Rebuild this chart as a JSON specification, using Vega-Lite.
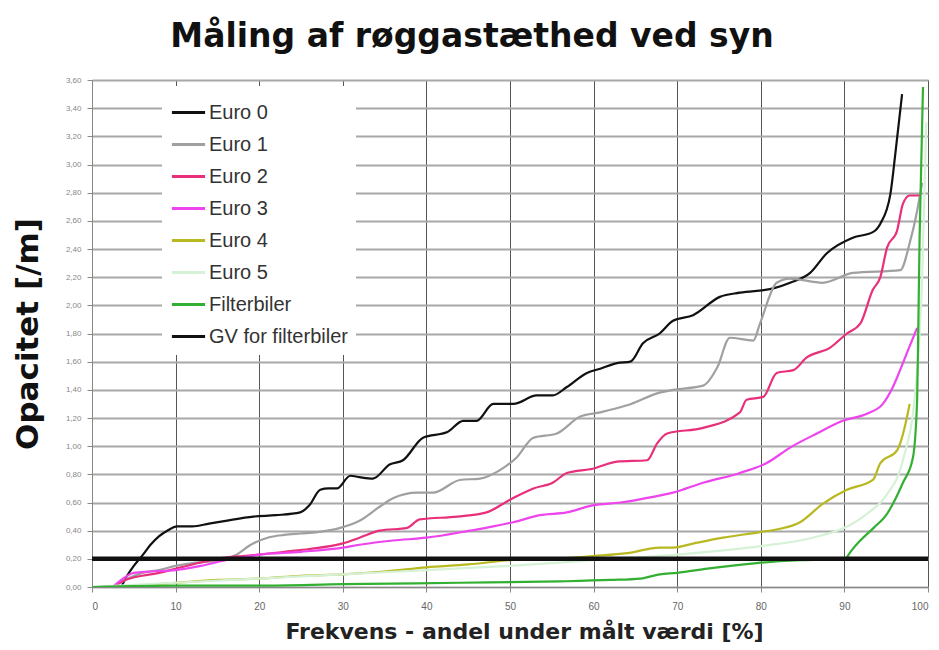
{
  "$schema": "https://vega.github.io/schema/vega-lite/v6.json",
  "width": 836,
  "height": 507,
  "autosize": "none",
  "padding": {"left": 92, "top": 80, "right": 11, "bottom": 63},
  "background": "white",
  "config": {
    "font": "Liberation Sans",
    "view": {"stroke": "#999999", "strokeWidth": 1}
  },
  "title": {
    "text": "Måling af røggastæthed ved syn",
    "fontSize": 33,
    "fontWeight": "bold",
    "font": "DejaVu Sans",
    "color": "#111111",
    "anchor": "middle",
    "offset": 22,
    "dx": -38
  },
  "data": {
    "values": [
      {"s":"Euro 0","x":3.5,"y":0},{"s":"Euro 0","x":4.2,"y":0.08},{"s":"Euro 0","x":5,"y":0.15},{"s":"Euro 0","x":6.1,"y":0.23},{"s":"Euro 0","x":7,"y":0.3},{"s":"Euro 0","x":8,"y":0.36},{"s":"Euro 0","x":9,"y":0.4},{"s":"Euro 0","x":10.2,"y":0.43},{"s":"Euro 0","x":12,"y":0.43},{"s":"Euro 0","x":14,"y":0.45},{"s":"Euro 0","x":16,"y":0.47},{"s":"Euro 0","x":19.3,"y":0.5},{"s":"Euro 0","x":22,"y":0.51},{"s":"Euro 0","x":24.9,"y":0.53},{"s":"Euro 0","x":26,"y":0.58},{"s":"Euro 0","x":27.3,"y":0.69},{"s":"Euro 0","x":28.3,"y":0.7},{"s":"Euro 0","x":29.3,"y":0.7},{"s":"Euro 0","x":30.9,"y":0.79},{"s":"Euro 0","x":32,"y":0.78},{"s":"Euro 0","x":33.6,"y":0.77},{"s":"Euro 0","x":35.6,"y":0.87},{"s":"Euro 0","x":37.2,"y":0.9},{"s":"Euro 0","x":39.6,"y":1.06},{"s":"Euro 0","x":42.5,"y":1.1},{"s":"Euro 0","x":44.4,"y":1.18},{"s":"Euro 0","x":46,"y":1.18},{"s":"Euro 0","x":48,"y":1.3},{"s":"Euro 0","x":50.4,"y":1.3},{"s":"Euro 0","x":53.2,"y":1.36},{"s":"Euro 0","x":55.1,"y":1.36},{"s":"Euro 0","x":56.8,"y":1.42},{"s":"Euro 0","x":59.2,"y":1.52},{"s":"Euro 0","x":60.8,"y":1.55},{"s":"Euro 0","x":62.8,"y":1.59},{"s":"Euro 0","x":64.4,"y":1.6},{"s":"Euro 0","x":65.9,"y":1.73},{"s":"Euro 0","x":67.9,"y":1.8},{"s":"Euro 0","x":69.5,"y":1.89},{"s":"Euro 0","x":71.9,"y":1.93},{"s":"Euro 0","x":75.1,"y":2.06},{"s":"Euro 0","x":77.5,"y":2.09},{"s":"Euro 0","x":81.5,"y":2.12},{"s":"Euro 0","x":83.5,"y":2.16},{"s":"Euro 0","x":85.9,"y":2.23},{"s":"Euro 0","x":87.9,"y":2.37},{"s":"Euro 0","x":91,"y":2.48},{"s":"Euro 0","x":93.4,"y":2.52},{"s":"Euro 0","x":94.3,"y":2.58},{"s":"Euro 0","x":95.5,"y":2.79},{"s":"Euro 0","x":96.1,"y":3.08},{"s":"Euro 0","x":96.9,"y":3.5},
      {"s":"Euro 1","x":2.5,"y":0},{"s":"Euro 1","x":4,"y":0.05},{"s":"Euro 1","x":6,"y":0.1},{"s":"Euro 1","x":8,"y":0.12},{"s":"Euro 1","x":10,"y":0.15},{"s":"Euro 1","x":12,"y":0.17},{"s":"Euro 1","x":14,"y":0.18},{"s":"Euro 1","x":16,"y":0.2},{"s":"Euro 1","x":17.3,"y":0.23},{"s":"Euro 1","x":19,"y":0.3},{"s":"Euro 1","x":21,"y":0.35},{"s":"Euro 1","x":23,"y":0.37},{"s":"Euro 1","x":24.9,"y":0.38},{"s":"Euro 1","x":27,"y":0.39},{"s":"Euro 1","x":29.7,"y":0.42},{"s":"Euro 1","x":32,"y":0.47},{"s":"Euro 1","x":34.4,"y":0.57},{"s":"Euro 1","x":36,"y":0.63},{"s":"Euro 1","x":38.9,"y":0.67},{"s":"Euro 1","x":40.8,"y":0.67},{"s":"Euro 1","x":44,"y":0.76},{"s":"Euro 1","x":46.4,"y":0.77},{"s":"Euro 1","x":48.8,"y":0.83},{"s":"Euro 1","x":50.8,"y":0.92},{"s":"Euro 1","x":52.8,"y":1.06},{"s":"Euro 1","x":55.6,"y":1.09},{"s":"Euro 1","x":58.4,"y":1.21},{"s":"Euro 1","x":60.8,"y":1.24},{"s":"Euro 1","x":64,"y":1.29},{"s":"Euro 1","x":67.9,"y":1.38},{"s":"Euro 1","x":69.5,"y":1.4},{"s":"Euro 1","x":73.1,"y":1.43},{"s":"Euro 1","x":74.8,"y":1.56},{"s":"Euro 1","x":76.3,"y":1.77},{"s":"Euro 1","x":79.1,"y":1.75},{"s":"Euro 1","x":79.9,"y":1.87},{"s":"Euro 1","x":81.9,"y":2.16},{"s":"Euro 1","x":83.5,"y":2.19},{"s":"Euro 1","x":87.4,"y":2.16},{"s":"Euro 1","x":91,"y":2.23},{"s":"Euro 1","x":96.7,"y":2.25},{"s":"Euro 1","x":97.8,"y":2.44},{"s":"Euro 1","x":98.7,"y":2.67},{"s":"Euro 1","x":99.3,"y":2.87},
      {"s":"Euro 2","x":2.5,"y":0},{"s":"Euro 2","x":4,"y":0.05},{"s":"Euro 2","x":6,"y":0.08},{"s":"Euro 2","x":8,"y":0.1},{"s":"Euro 2","x":10,"y":0.13},{"s":"Euro 2","x":12,"y":0.16},{"s":"Euro 2","x":15,"y":0.2},{"s":"Euro 2","x":18,"y":0.22},{"s":"Euro 2","x":20,"y":0.23},{"s":"Euro 2","x":23,"y":0.25},{"s":"Euro 2","x":26,"y":0.27},{"s":"Euro 2","x":30,"y":0.31},{"s":"Euro 2","x":32,"y":0.35},{"s":"Euro 2","x":34.4,"y":0.4},{"s":"Euro 2","x":37.7,"y":0.42},{"s":"Euro 2","x":39.2,"y":0.48},{"s":"Euro 2","x":43.7,"y":0.5},{"s":"Euro 2","x":47.2,"y":0.53},{"s":"Euro 2","x":50,"y":0.62},{"s":"Euro 2","x":52.8,"y":0.7},{"s":"Euro 2","x":55.1,"y":0.74},{"s":"Euro 2","x":56.8,"y":0.81},{"s":"Euro 2","x":59.9,"y":0.84},{"s":"Euro 2","x":62.8,"y":0.89},{"s":"Euro 2","x":66.4,"y":0.9},{"s":"Euro 2","x":67.6,"y":1.02},{"s":"Euro 2","x":68.8,"y":1.09},{"s":"Euro 2","x":73.1,"y":1.13},{"s":"Euro 2","x":77.5,"y":1.24},{"s":"Euro 2","x":78.3,"y":1.33},{"s":"Euro 2","x":80.3,"y":1.35},{"s":"Euro 2","x":81.9,"y":1.52},{"s":"Euro 2","x":83.9,"y":1.54},{"s":"Euro 2","x":85.5,"y":1.63},{"s":"Euro 2","x":88.3,"y":1.7},{"s":"Euro 2","x":90.3,"y":1.8},{"s":"Euro 2","x":91.9,"y":1.87},{"s":"Euro 2","x":93.4,"y":2.11},{"s":"Euro 2","x":94.3,"y":2.2},{"s":"Euro 2","x":95.1,"y":2.41},{"s":"Euro 2","x":96.3,"y":2.53},{"s":"Euro 2","x":97,"y":2.72},{"s":"Euro 2","x":97.8,"y":2.78},{"s":"Euro 2","x":99,"y":2.78},
      {"s":"Euro 3","x":2.5,"y":0},{"s":"Euro 3","x":3.5,"y":0.05},{"s":"Euro 3","x":5,"y":0.1},{"s":"Euro 3","x":7,"y":0.11},{"s":"Euro 3","x":10,"y":0.12},{"s":"Euro 3","x":13,"y":0.15},{"s":"Euro 3","x":16,"y":0.19},{"s":"Euro 3","x":20,"y":0.23},{"s":"Euro 3","x":25,"y":0.25},{"s":"Euro 3","x":30,"y":0.28},{"s":"Euro 3","x":32,"y":0.3},{"s":"Euro 3","x":36,"y":0.33},{"s":"Euro 3","x":40,"y":0.35},{"s":"Euro 3","x":45.2,"y":0.4},{"s":"Euro 3","x":48,"y":0.43},{"s":"Euro 3","x":50.4,"y":0.46},{"s":"Euro 3","x":53.6,"y":0.51},{"s":"Euro 3","x":56.8,"y":0.53},{"s":"Euro 3","x":59.9,"y":0.58},{"s":"Euro 3","x":63.2,"y":0.6},{"s":"Euro 3","x":67.1,"y":0.64},{"s":"Euro 3","x":69.5,"y":0.67},{"s":"Euro 3","x":73.1,"y":0.74},{"s":"Euro 3","x":77.5,"y":0.81},{"s":"Euro 3","x":80.7,"y":0.88},{"s":"Euro 3","x":83.5,"y":0.99},{"s":"Euro 3","x":86.7,"y":1.09},{"s":"Euro 3","x":89.8,"y":1.18},{"s":"Euro 3","x":92.7,"y":1.23},{"s":"Euro 3","x":94.6,"y":1.3},{"s":"Euro 3","x":95.8,"y":1.42},{"s":"Euro 3","x":97,"y":1.59},{"s":"Euro 3","x":97.6,"y":1.68},{"s":"Euro 3","x":98.7,"y":1.84},
      {"s":"Euro 4","x":1,"y":0},{"s":"Euro 4","x":5,"y":0.01},{"s":"Euro 4","x":10,"y":0.03},{"s":"Euro 4","x":15,"y":0.05},{"s":"Euro 4","x":20,"y":0.06},{"s":"Euro 4","x":25,"y":0.08},{"s":"Euro 4","x":30,"y":0.09},{"s":"Euro 4","x":35,"y":0.11},{"s":"Euro 4","x":40,"y":0.14},{"s":"Euro 4","x":45,"y":0.16},{"s":"Euro 4","x":50,"y":0.19},{"s":"Euro 4","x":55,"y":0.2},{"s":"Euro 4","x":60,"y":0.22},{"s":"Euro 4","x":64,"y":0.24},{"s":"Euro 4","x":67.9,"y":0.28},{"s":"Euro 4","x":69.5,"y":0.28},{"s":"Euro 4","x":72,"y":0.31},{"s":"Euro 4","x":75.5,"y":0.35},{"s":"Euro 4","x":79.9,"y":0.39},{"s":"Euro 4","x":82,"y":0.41},{"s":"Euro 4","x":84.7,"y":0.46},{"s":"Euro 4","x":87.4,"y":0.59},{"s":"Euro 4","x":90.3,"y":0.69},{"s":"Euro 4","x":93.4,"y":0.76},{"s":"Euro 4","x":94.3,"y":0.88},{"s":"Euro 4","x":96.3,"y":0.97},{"s":"Euro 4","x":97.5,"y":1.21},{"s":"Euro 4","x":97.8,"y":1.3},
      {"s":"Euro 5","x":0,"y":0},{"s":"Euro 5","x":10,"y":0.03},{"s":"Euro 5","x":20,"y":0.06},{"s":"Euro 5","x":30,"y":0.09},{"s":"Euro 5","x":40,"y":0.12},{"s":"Euro 5","x":50,"y":0.15},{"s":"Euro 5","x":60,"y":0.19},{"s":"Euro 5","x":70,"y":0.23},{"s":"Euro 5","x":80,"y":0.29},{"s":"Euro 5","x":86.2,"y":0.35},{"s":"Euro 5","x":90,"y":0.42},{"s":"Euro 5","x":92.7,"y":0.52},{"s":"Euro 5","x":95,"y":0.65},{"s":"Euro 5","x":97,"y":0.9},{"s":"Euro 5","x":98.5,"y":1.4},{"s":"Euro 5","x":99.3,"y":2.2},{"s":"Euro 5","x":99.8,"y":3.3},
      {"s":"Filterbiler","x":0,"y":0},{"s":"Filterbiler","x":10,"y":0.01},{"s":"Filterbiler","x":20,"y":0.01},{"s":"Filterbiler","x":30,"y":0.02},{"s":"Filterbiler","x":44,"y":0.03},{"s":"Filterbiler","x":56,"y":0.04},{"s":"Filterbiler","x":62,"y":0.05},{"s":"Filterbiler","x":65.6,"y":0.06},{"s":"Filterbiler","x":67.9,"y":0.09},{"s":"Filterbiler","x":70,"y":0.1},{"s":"Filterbiler","x":73.6,"y":0.13},{"s":"Filterbiler","x":79.5,"y":0.17},{"s":"Filterbiler","x":84.7,"y":0.19},{"s":"Filterbiler","x":90.2,"y":0.2},{"s":"Filterbiler","x":90.4,"y":0.22},{"s":"Filterbiler","x":91.9,"y":0.33},{"s":"Filterbiler","x":93.5,"y":0.42},{"s":"Filterbiler","x":95.1,"y":0.52},{"s":"Filterbiler","x":97,"y":0.74},{"s":"Filterbiler","x":98.2,"y":0.92},{"s":"Filterbiler","x":98.7,"y":1.33},{"s":"Filterbiler","x":98.8,"y":1.68},{"s":"Filterbiler","x":99,"y":2.5},{"s":"Filterbiler","x":99.4,"y":3.55},
      {"s":"GV for filterbiler","x":0,"y":0.2},{"s":"GV for filterbiler","x":100,"y":0.2}
    ]
  },
  "encoding": {
    "x": {
      "field": "x", "type": "quantitative",
      "scale": {"domain": [0, 100], "nice": false},
      "axis": {
        "values": [0,10,20,30,40,50,60,70,80,90,100],
        "title": "Frekvens - andel under målt værdi [%]",
        "titleFont": "DejaVu Sans",
        "titleFontSize": 22, "titleFontWeight": "bold", "titleColor": "#222222",
        "titlePadding": 10,
        "titleX": 432,
        "labelFontSize": 10, "labelColor": "#666666", "labelPadding": 9,
        "gridColor": "#555555", "gridWidth": 1,
        "domainColor": "#888888", "tickColor": "#888888", "tickSize": 5
      }
    },
    "y": {
      "field": "y", "type": "quantitative",
      "scale": {"domain": [0, 3.6], "nice": false},
      "axis": {
        "values": [0,0.2,0.4,0.6,0.8,1,1.2,1.4,1.6,1.8,2,2.2,2.4,2.6,2.8,3,3.2,3.4,3.6],
        "labelExpr": "replace(format(datum.value, '.2f'), '.', ',')",
        "title": "Opacitet [/m]",
        "titleFont": "DejaVu Sans",
        "titleFontSize": 31, "titleFontWeight": "bold", "titleColor": "#111111",
        "titlePadding": 21,
        "labelFontSize": 8, "labelColor": "#888888", "labelPadding": 6,
        "gridColor": "#a8a8a8", "gridWidth": 2,
        "domainColor": "#888888", "tickColor": "#888888", "tickSize": 5
      }
    },
    "color": {
      "field": "s", "type": "nominal",
      "scale": {
        "domain": ["Euro 0","Euro 1","Euro 2","Euro 3","Euro 4","Euro 5","Filterbiler","GV for filterbiler"],
        "range": ["#111111","#a0a0a0","#e8307a","#ee44ee","#b8b820","#d6f2d6","#33b033","#111111"]
      },
      "legend": {
        "title": null,
        "orient": "none",
        "legendX": 70,
        "legendY": 6,
        "symbolType": "stroke",
        "symbolSize": 1100,
        "symbolStrokeWidth": 3,
        "rowPadding": 3,
        "labelFontSize": 20,
        "labelColor": "#333333",
        "labelOffset": 2,
        "fillColor": "white",
        "padding": 8
      }
    }
  },
  "layer": [
    {
      "transform": [{"filter": "datum.s !== 'GV for filterbiler'"}],
      "mark": {"type": "line", "interpolate": "monotone", "clip": true, "strokeWidth": 2.2}
    },
    {
      "transform": [{"filter": "datum.s === 'GV for filterbiler'"}],
      "mark": {"type": "line", "clip": true, "strokeWidth": 4.5}
    }
  ]
}
